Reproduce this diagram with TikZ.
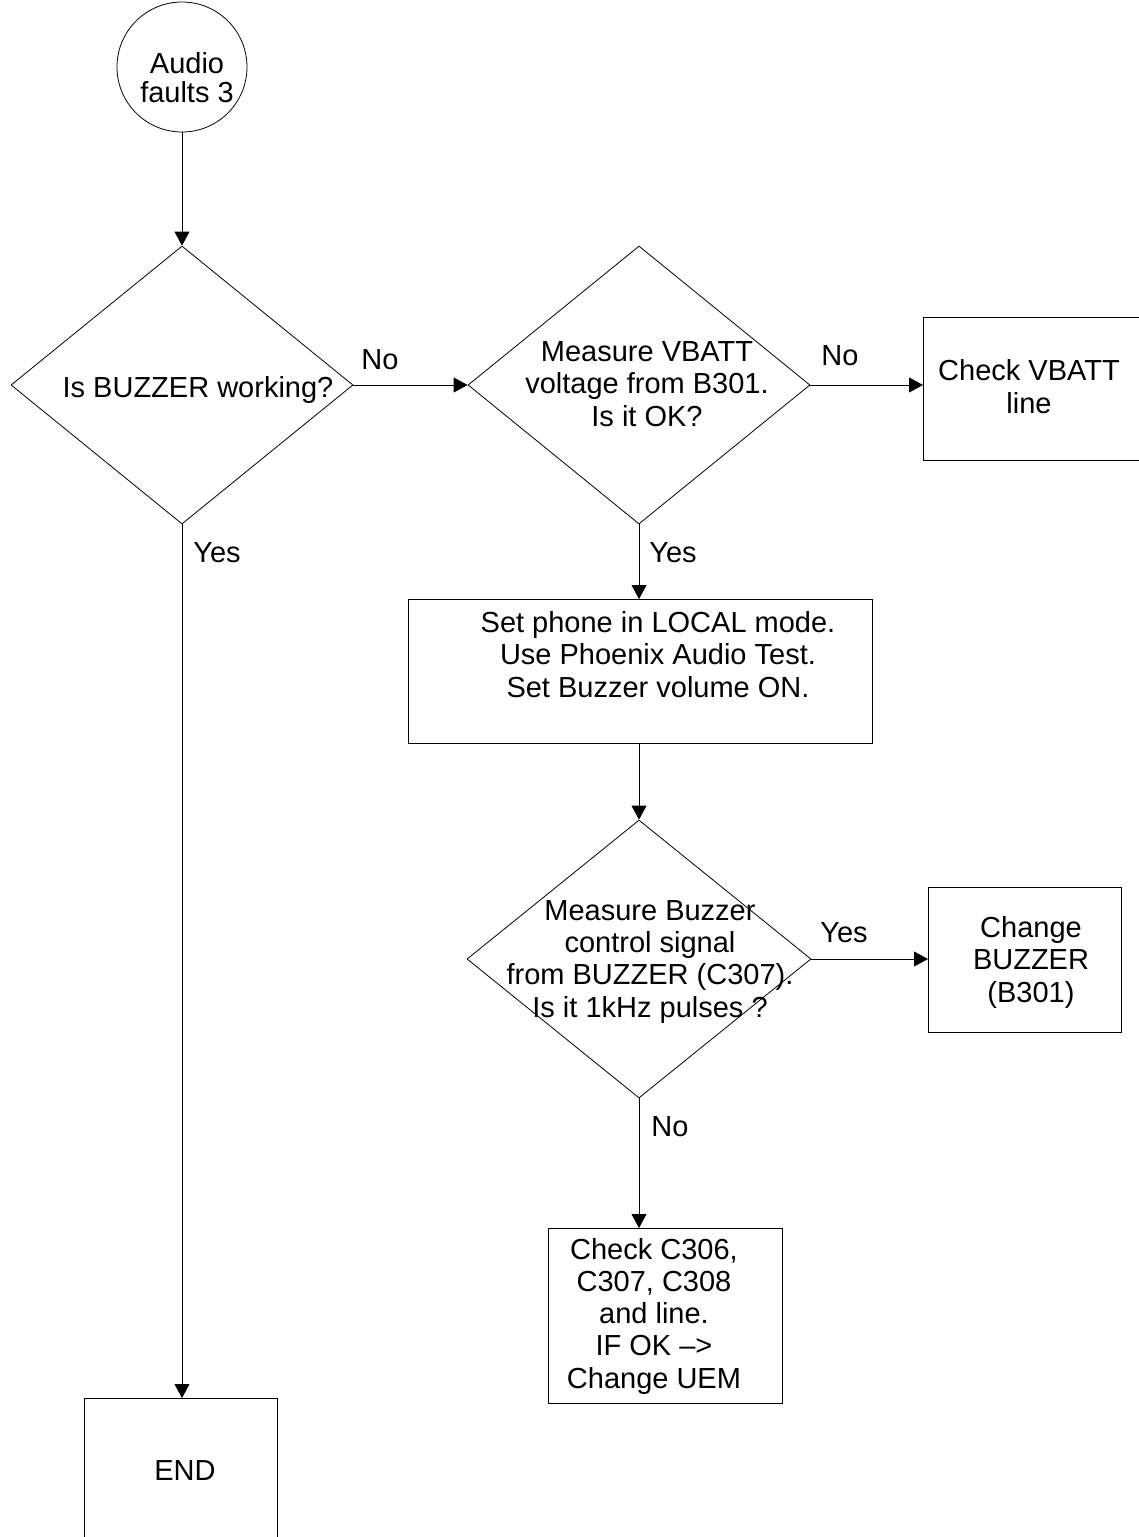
\documentclass[tikz,border=0pt]{standalone}
\usepackage{fontspec}
\setmainfont{Liberation Sans}
\usetikzlibrary{shapes.geometric,arrows.meta}
\tikzset{
  fc/.style={font=\fontsize{29}{32.2}\selectfont},
  txt/.style={fc,align=center,anchor=base,inner sep=0pt},
  lbl/.style={fc,inner sep=0pt},
  dia/.style={diamond,draw,line width=0.8pt,inner sep=0pt,minimum width=#1,minimum height=278pt},
  bx/.style={rectangle,draw,line width=0.8pt,inner sep=0pt},
  arr/.style={line width=0.8pt,-{Triangle[length=14pt,width=15pt]}},
}
\begin{document}
\begin{tikzpicture}[x=1pt,y=-1pt]
\useasboundingbox (0,0) rectangle (1139,1537);
% start circle
\node[circle,draw,line width=0.8pt,minimum size=130pt,inner sep=0pt] (start) at (182,67) {};
\node[txt] (tstart) at (187,102) {Audio\\[-4pt]faults 3};
% diamond 1
\node[dia=342pt] (d1) at (182,385) {};
\node[txt] (t1) at (198,397) {Is BUZZER working?};
% diamond 2
\node[dia=342pt] (d2) at (639,385) {};
\node[txt] (t2) at (647,426) {Measure VBATT\\voltage from B301.\\Is it OK?};
% Check VBATT box
\node[bx,minimum width=240pt,minimum height=143pt,anchor=north west] (vb) at (923,317) {};
\node[txt] (tvb) at (1029,413) {Check VBATT\\line};
% Set phone box
\node[bx,minimum width=464pt,minimum height=144pt,anchor=north west] (setb) at (408,599) {};
\node[txt] (tset) at (658,697) {Set phone in LOCAL mode.\\Use Phoenix Audio Test.\\Set Buzzer volume ON.};
% diamond 3
\node[dia=344pt] (d3) at (639,959) {};
\node[txt] (t3) at (650,1017) {Measure Buzzer\\control signal\\from BUZZER (C307).\\Is it 1kHz pulses ?};
% Change buzzer box
\node[bx,minimum width=193pt,minimum height=145pt,anchor=north west] (cb) at (928,887) {};
\node[txt] (tcb) at (1031,1002) {Change\\BUZZER\\(B301)};
% Check C306 box
\node[bx,minimum width=234pt,minimum height=175pt,anchor=north west] (cc) at (548,1228) {};
\node[txt] (tcc) at (654,1388) {Check C306,\\C307, C308\\and line.\\IF OK –>\\Change UEM};
% END box
\node[bx,minimum width=193pt,minimum height=170pt,anchor=north west] (endb) at (84,1398) {};
\node[txt] (tend) at (185,1480) {END};
% connectors
\draw[arr] (start.south) -- (d1.north);
\draw[arr] (d1.east) -- (d2.west);
\draw[arr] (d2.east) -- (d2.east -| vb.west);
\draw[arr] (d2.south) -- (d2.south |- setb.north);
\draw[arr] (d3.north |- setb.south) -- (d3.north);
\draw[arr] (d3.east) -- (d3.east -| cb.west);
\draw[arr] (d3.south) -- (d3.south |- cc.north);
\draw[arr] (d1.south) -- (d1.south |- endb.north);
% labels
\node[lbl] (lno1) at (380,360) {No};
\node[lbl] (lno2) at (840,356) {No};
\node[lbl] (lyes1) at (673,553) {Yes};
\node[lbl] (lyes0) at (217,553) {Yes};
\node[lbl] (lyes2) at (844,933) {Yes};
\node[lbl] (lno3) at (670,1127) {No};
\end{tikzpicture}
\end{document}
